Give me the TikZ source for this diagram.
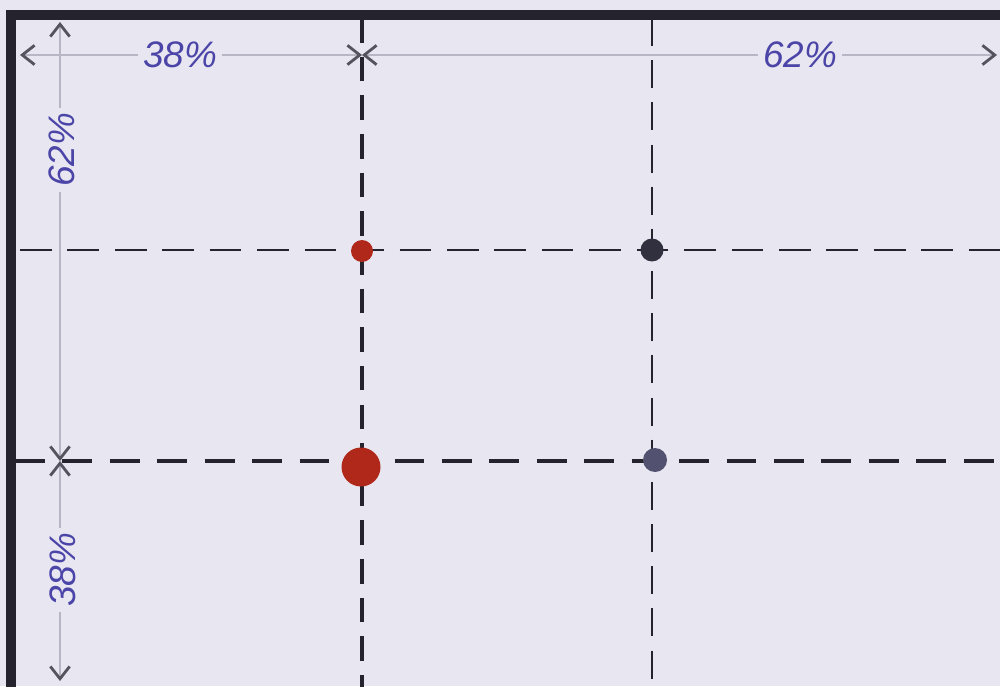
\documentclass[tikz,border=0pt]{standalone}
\usepackage{fontspec}
\setmainfont{Liberation Sans}
\usetikzlibrary{arrows.meta}

\definecolor{paper}{HTML}{E8E6F1}
\definecolor{ink}{HTML}{24232E}
\definecolor{pen}{HTML}{4B45A8}
\definecolor{rule}{HTML}{B8B6C4}
\definecolor{tipgrey}{HTML}{55535E}
\definecolor{dotred}{HTML}{B0281A}
\definecolor{dotdark}{HTML}{30303E}
\definecolor{dotblue}{HTML}{525270}

\begin{document}
\begin{tikzpicture}[x=0.02cm, y=-0.02cm,
    dot/.style={circle, inner sep=0pt},
    lbl/.style={fill=paper, text=pen, inner sep=3pt, font=\fontsize{21}{24}\selectfont\itshape},
    dim/.style={draw=rule, line width=1.2pt},
    barb/.tip={Straight Barb[length=7pt, width=11pt, line width=1.6pt, color=tipgrey]},
    heavy/.style={draw=ink, line width=2.4pt},
    light/.style={draw=ink, line width=1.1pt}]
  \useasboundingbox (0,0) rectangle (1000,686);
  \fill[paper] (0,0) rectangle (1000,686);
  \clip (0,0) rectangle (1000,686);
  % Frame corners and line ends
  \coordinate (fl) at (11,700);
  \coordinate (fc) at (11,15);
  \coordinate (fr) at (1010,15);
  \coordinate (dl) at (20,55);
  \coordinate (dm) at (362,55);
  \coordinate (dr) at (997,55);
  \coordinate (vt) at (60,22);
  \coordinate (vm) at (60,461);
  \coordinate (vb) at (60,681);
  \coordinate (at) at (362,18);
  \coordinate (ab) at (362,700);
  \coordinate (bt) at (652,18);
  \coordinate (bb) at (652,700);
  \coordinate (cl) at (20,250);
  \coordinate (cr) at (1010,250);
  \coordinate (el) at (15,461);
  \coordinate (er) at (1010,461);
  % Dimension lines
  \draw[dim, {barb}-{barb}] (dl) -- (dm);
  \draw[dim, {barb}-{barb}] (dm) -- (dr);
  \draw[dim, {barb}-{barb}] (vt) -- (vm);
  \draw[dim, {barb}-{barb}] (vm) -- (vb);
  % Labels
  \node[lbl] (w38) at (180,55) {38\%};
  \node[lbl] (w62) at (800,55) {62\%};
  \node[lbl, rotate=90] (h62) at (62,150) {62\%};
  \node[lbl, rotate=90] (h38) at (63,570) {38\%};
  % Frame
  \draw[ink, line width=5.6pt] (fl) -- (fc) -- (fr);
  % Dividing lines
  \draw[heavy, dash pattern=on 14pt off 8pt] (at) -- (ab);
  \draw[light, dash pattern=on 16pt off 8pt] (bt) -- (bb);
  \draw[light, dash pattern=on 18pt off 9pt] (cl) -- (cr);
  \draw[heavy, dash pattern=on 17pt off 10pt] (el) -- (er);
  % Points
  \node[dot, fill=dotred, minimum size=0.44cm] (r1) at (362,251) {};
  \node[dot, fill=dotdark, minimum size=0.46cm] (k1) at (652,250) {};
  \node[dot, fill=dotred, minimum size=0.78cm] (r2) at (361,467) {};
  \node[dot, fill=dotblue, minimum size=0.48cm] (k2) at (655,460) {};
\end{tikzpicture}
\end{document}
